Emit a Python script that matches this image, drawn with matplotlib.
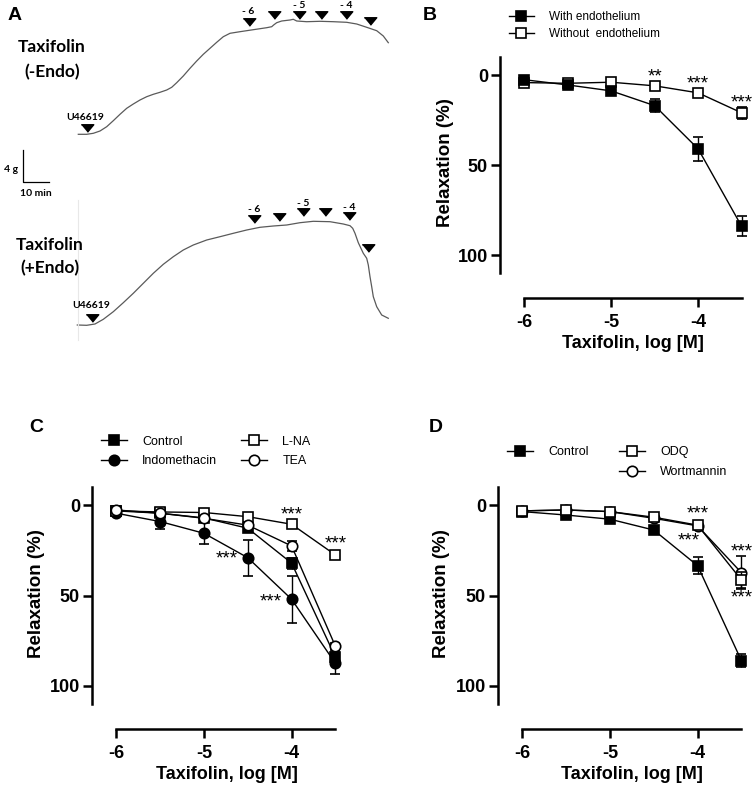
import matplotlib
matplotlib.use("Agg")
import matplotlib.pyplot as plt
from matplotlib.lines import Line2D

plt.rcParams['font.family'] = ['Liberation Sans', 'DejaVu Sans']

W, H = 754, 788

# ---- data ----
conc = [-6, -5.5, -5, -4.5, -4, -3.5]

# panel B
b_with = [2.6, 5.5, 8.8, 17, 41, 84]
b_with_err = [1.0, 1.0, 1.5, 3.5, 6.5, 5.5]
b_without = [4.2, 4.6, 4.0, 6.0, 9.9, 21]
b_without_err = [1.0, 1.0, 1.0, 1.0, 1.5, 3.5]

# panel C
c_control = [3.1, 4.4, 7.0, 12.7, 32, 84]
c_control_err = [1.0, 1.0, 1.5, 2.0, 3.0, 3.0]
c_indo = [4.4, 9.0, 15.5, 29, 52, 87.5]
c_indo_err = [1.0, 4.0, 6.0, 10, 13, 6.0]
c_lna = [3.1, 3.7, 4.0, 6.3, 10.5, 27.5]
c_lna_err = [1.0, 1.0, 1.0, 1.0, 1.5, 2.0]
c_tea = [2.6, 4.4, 7.2, 11, 22.5, 78]
c_tea_err = [1.0, 1.0, 1.0, 1.5, 3.0, 2.0]

# panel D
d_control = [3.5, 5.4, 7.7, 13.7, 33.4, 86]
d_control_err = [2.0, 1.0, 1.0, 1.5, 4.6, 3.5]
d_odq = [3.1, 2.6, 3.5, 6.6, 11, 41.3]
d_odq_err = [1.0, 1.0, 1.0, 1.0, 1.5, 4.5]
d_wort = [3.1, 2.6, 3.5, 7.2, 11.4, 37.3]
d_wort_err = [1.0, 1.0, 1.0, 1.0, 1.5, 9.0]

# panel A traces (pixel coords of the recording)
top_x = [78.3, 86.7, 93.3, 100, 106.7, 113.3, 120, 126.7, 133.3, 140, 146.7, 153.3, 160, 166.7,
         171.7, 176.7, 183.3, 190, 196.7, 203.3, 210, 216.7, 223.3, 230, 240, 253.3, 266.7, 271.7,
         274, 276.7, 281.7, 290, 293.3, 296.7, 306.7, 320, 333.3, 346.7, 356.7, 366.7, 376.7,
         383.3, 388.3]
top_y = [134.3, 134.3, 133.3, 131, 126.7, 120.7, 114.3, 108.3, 104, 100, 96.7, 94.3, 92.3, 90,
         87.3, 82.7, 76, 68.3, 61, 54.3, 48.3, 42.3, 36.7, 33.3, 31.7, 29.7, 27.7, 26.7,
         24.7, 22.7, 21, 20, 19.3, 21, 21.7, 21.3, 21.7, 22.3, 24, 27.3, 30.7,
         36, 42.7]
bot_x = [77.3, 86.7, 95, 103.3, 113.3, 123.3, 133.3, 143.3, 153.3, 163.3, 173.3, 183.3, 193.3,
         206.7, 220, 233.3, 246.7, 260, 273.3, 286.7, 300, 313.3, 330, 343.3, 350, 352.7, 355,
         358.3, 363.3, 366.7, 368.3, 370, 371.7, 373.3, 376.7, 381.7, 388.3]
bot_y = [325, 325.3, 324, 319.3, 311.7, 302.7, 293.3, 283.3, 273.3, 264.3, 256.7, 250, 245,
         240, 236.7, 233.3, 230, 227.3, 226, 225, 222.7, 221.3, 221.7, 224, 225.7, 228.3, 233.3,
         242.7, 253.3, 258.3, 265, 276.7, 286.7, 296.7, 306.7, 315, 318.3]
top_arrows = [(87, 128), (249, 22), (274, 15), (299, 15), (321, 15), (346, 15), (370, 21)]
bot_arrows = [(92, 318), (254, 219), (279, 217), (303, 212), (325, 212), (349, 216), (368, 248)]
top_labels = [("U46619", 85, 117), ("- 6", 248, 12), ("- 5", 299, 5), ("- 4", 346, 5)]
bot_labels = [("U46619", 91, 306), ("- 6", 254, 210), ("- 5", 303, 203), ("- 4", 349, 207)]

fig = plt.figure(figsize=(W / 100, H / 100), dpi=100)


def px_axes(left, top, right, bottom):
    return fig.add_axes([left / W, 1 - bottom / H, (right - left) / W, (bottom - top) / H])


# ---- panel A ----
axA = px_axes(0, 0, 420, 380)
axA.set_xlim(0, 420)
axA.set_ylim(380, 0)
axA.axis('off')
axA.plot(top_x, top_y, color='#5a5a5a', lw=0.9)
axA.plot(bot_x, bot_y, color='#5a5a5a', lw=0.9)
axA.plot([78, 78], [200, 340], color='#e8e8e8', lw=0.8)
tri = [(-1, 0.6), (1, 0.6), (0, -0.6)]
for xa, ya in top_arrows + bot_arrows:
    axA.plot(xa, ya, marker=tri, markersize=9, color='black', ls='none')
for t, xa, ya in top_labels + bot_labels:
    axA.text(xa, ya, t, ha='center', va='center', fontsize=7.5, fontweight='bold', family='Lato')
axA.plot([23, 23, 49], [150, 182, 182], color='black', lw=0.9)
axA.text(11, 170, "4 g", ha='center', va='center', fontsize=7.5, fontweight='bold', family='Lato')
axA.text(36, 193, "10 min", ha='center', va='center', fontsize=7.5, fontweight='bold', family='Lato')
for t, xa, ya in [("Taxifolin", 52, 47), ("(-Endo)", 52, 72), ("Taxifolin", 50, 245), ("(+Endo)", 50, 268)]:
    axA.text(xa, ya, t, ha='center', va='center', fontsize=12.5, fontweight='bold', family='Lato')


def style(ax, xlab_x, ylab_x):
    for s in ['top', 'right']:
        ax.spines[s].set_visible(False)
    for s in ['left', 'bottom']:
        ax.spines[s].set_linewidth(1.8)
    ax.spines['left'].set_bounds(-10, 110)
    ax.spines['bottom'].set_bounds(-6, -3.5)
    ax.set_xlim(-6.28, -3.45)
    ax.set_ylim(123.8, -10)
    ax.set_yticks([0, 50, 100])
    ax.set_xticks([-6, -5, -4])
    ax.set_xticklabels(['-6', '-5', '-4'])
    ax.tick_params(direction='out', length=6.5, width=1.8, labelsize=13)
    ax.tick_params(axis='y', pad=2)
    ax.tick_params(axis='x', pad=5)
    for lab in ax.get_xticklabels() + ax.get_yticklabels():
        lab.set_fontweight('bold')
    ax.set_ylabel('Relaxation (%)', fontsize=13.5, fontweight='bold', va='center')
    ax.set_xlabel('Taxifolin, log [M]', fontsize=13, fontweight='bold', va='center')
    ax.yaxis.set_label_coords(ylab_x, 0.56)
    ax.xaxis.set_label_coords(xlab_x, -0.19)
    ax.patch.set_alpha(0)


def series(ax, y, err, marker, fill, z):
    ax.errorbar(conc, y, yerr=err, color='black', lw=1, marker=marker, ms=7.5,
                mfc=fill, mec='black', mew=1.2, capsize=3.6, elinewidth=1, capthick=1,
                zorder=z, clip_on=False)


def handle(marker, fill):
    return Line2D([], [], color='black', lw=1, marker=marker, ms=7.5, mfc=fill, mec='black', mew=1.2)


stars_kw = dict(ha='center', va='center', fontsize=13.5)

# ---- panel B ----
axB = px_axes(499.7, 57, 746, 298)
style(axB, 0.54, -0.222)
series(axB, b_without, b_without_err, 's', 'white', 3)
series(axB, b_with, b_with_err, 's', 'black', 4)
axB.text(-4.5, 1.0, '**', **stars_kw)
axB.text(-4, 4.8, '***', **stars_kw)
axB.text(-3.5, 15.5, '***', **stars_kw)
axB.legend([handle('s', 'black'), handle('s', 'white')],
           ['With endothelium', 'Without  endothelium'],
           loc='center left', bbox_to_anchor=(509 / W, 1 - 25.5 / H), bbox_transform=fig.transFigure,
           frameon=False, fontsize=8.5, handlelength=2.1, handletextpad=1.3, labelspacing=0.4,
           borderpad=0, borderaxespad=0)

# ---- panel C ----
axC = px_axes(91.7, 487.2, 339.8, 729)
style(axC, 0.544, -0.222)
series(axC, c_control, c_control_err, 's', 'black', 3)
series(axC, c_indo, c_indo_err, 'o', 'black', 4)
series(axC, c_lna, c_lna_err, 's', 'white', 5)
series(axC, c_tea, c_tea_err, 'o', 'white', 6)
axC.text(-4, 5.5, '***', **stars_kw)
axC.text(-3.5, 21.5, '***', **stars_kw)
axC.text(-4.74, 29.8, '***', **stars_kw)
axC.text(-4.24, 53.5, '***', **stars_kw)
axC.legend([handle('s', 'black'), handle('o', 'black'), handle('s', 'white'), handle('o', 'white')],
           ['Control', 'Indomethacin', 'L-NA', 'TEA'], ncol=2,
           loc='center left', bbox_to_anchor=(101 / W, 1 - 451.5 / H), bbox_transform=fig.transFigure,
           frameon=False, fontsize=9, handlelength=2.1, handletextpad=1.2, labelspacing=0.62,
           columnspacing=1.9, borderpad=0, borderaxespad=0)

# ---- panel D ----
axD = px_axes(497.7, 487.2, 745.8, 729)
style(axD, 0.541, -0.225)
series(axD, d_control, d_control_err, 's', 'black', 3)
series(axD, d_wort, d_wort_err, 'o', 'white', 4)
series(axD, d_odq, d_odq_err, 's', 'white', 5)
axD.text(-4, 5.0, '***', **stars_kw)
axD.text(-4.1, 19.5, '***', **stars_kw)
axD.text(-3.5, 26.0, '***', **stars_kw)
axD.text(-3.5, 51.5, '***', **stars_kw)
blank = Line2D([], [], color='none')
axD.legend([handle('s', 'black'), blank, handle('s', 'white'), handle('o', 'white')],
           ['Control', ' ', 'ODQ', 'Wortmannin'], ncol=2,
           loc='center left', bbox_to_anchor=(507 / W, 1 - 462 / H), bbox_transform=fig.transFigure,
           frameon=False, fontsize=9, handlelength=2.1, handletextpad=1.2, labelspacing=0.62,
           columnspacing=2.4, borderpad=0, borderaxespad=0)

# panel letters
for t, xa, ya in [('A', 15, 16), ('B', 430, 16), ('C', 36, 427), ('D', 436, 428)]:
    fig.text(xa / W, 1 - ya / H, t, ha='center', va='center', fontsize=14, fontweight='bold')

fig.savefig('out.png', dpi=100)
